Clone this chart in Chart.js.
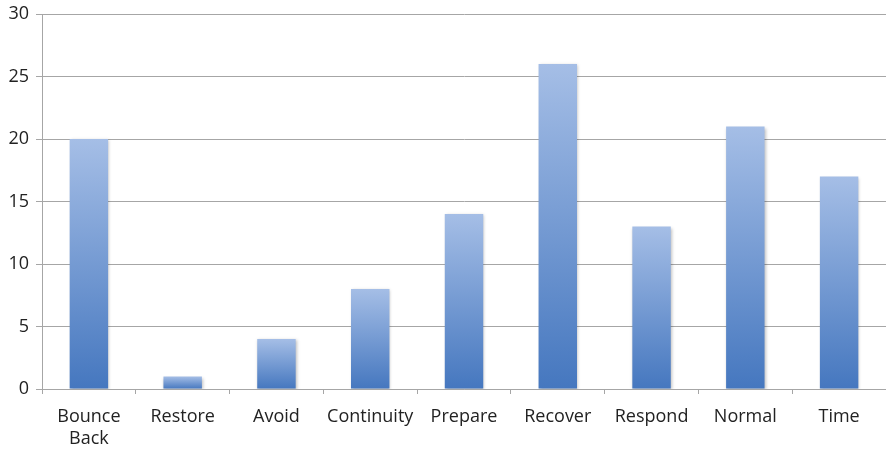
<!DOCTYPE html>
<html>
<head>
<meta charset="utf-8">
<script src="https://cdn.jsdelivr.net/npm/chart.js"></script>
<style>
  html, body { margin: 0; padding: 0; background: #fff; }
  #wrap { width: 886px; height: 450px; }
</style>
</head>
<body>
<div id="wrap"><canvas id="barChart" width="886" height="450"></canvas></div>
<script>
const categories = [["Bounce", "Back"], "Restore", "Avoid", "Continuity", "Prepare", "Recover", "Respond", "Normal", "Time"];
const counts = [20, 1, 4, 8, 14, 26, 13, 21, 17];
const yTicks = [0, 5, 10, 15, 20, 25, 30];

// each bar gets its own top-to-bottom gradient
function barGradient(context) {
  const chart = context.chart;
  const { ctx, chartArea, scales } = chart;
  if (!chartArea || !scales.y) return '#7097d2';
  const v = context.raw;
  const top = scales.y.getPixelForValue(v);
  const bottom = scales.y.getPixelForValue(0);
  if (!isFinite(top) || !isFinite(bottom) || top === bottom) return '#7097d2';
  const g = ctx.createLinearGradient(0, top, 0, bottom);
  g.addColorStop(0, '#a5bee6');
  g.addColorStop(1, '#4577bf');
  return g;
}

const shadowPlugin = {
  id: 'barShadow',
  beforeDatasetsDraw(chart) {
    const ctx = chart.ctx;
    ctx.save();
    ctx.shadowColor = 'rgba(0,0,0,0.25)';
    ctx.shadowBlur = 3;
    ctx.shadowOffsetX = 1;
    ctx.shadowOffsetY = 1;
  },
  afterDatasetsDraw(chart) {
    chart.ctx.restore();
  }
};

const chart = new Chart(document.getElementById("barChart").getContext("2d"), {
  type: 'bar',
  data: {
    labels: categories,
    datasets: [{
      data: counts,
      backgroundColor: barGradient,
      borderWidth: 0,
      categoryPercentage: 1,
      barPercentage: 0.41
    }]
  },
  options: {
    responsive: false,
    animation: false,
    layout: { padding: { left: 8, right: 0, top: 14, bottom: 2 } },
    plugins: {
      legend: { display: false },
      tooltip: { enabled: false }
    },
    scales: {
      x: {
        afterFit(axis) { axis.height = 59; },
        grid: {
          display: true,
          drawOnChartArea: false,
          offset: true,
          tickLength: 5,
          color: '#a6a6a6'
        },
        border: { color: '#a6a6a6', width: 1 },
        ticks: {
          color: '#222',
          font: { family: 'Open Sans', size: 18 },
          padding: 12,
          maxRotation: 0,
          autoSkip: false
        }
      },
      y: {
        min: 0,
        max: 30,
        afterFit(axis) {
          axis.width = 34;
          axis.paddingTop = 0;
          axis.paddingBottom = 0;
        },
        afterBuildTicks(axis) {
          axis.ticks = yTicks.map(v => ({ value: v }));
        },
        grid: {
          color: '#a6a6a6',
          tickLength: 6,
          lineWidth: 1
        },
        border: { color: '#a6a6a6', width: 1 },
        ticks: {
          color: '#222',
          font: { family: 'Open Sans', size: 18 },
          padding: 7
        }
      }
    }
  },
  plugins: [shadowPlugin]
});
</script>
</body>
</html>
